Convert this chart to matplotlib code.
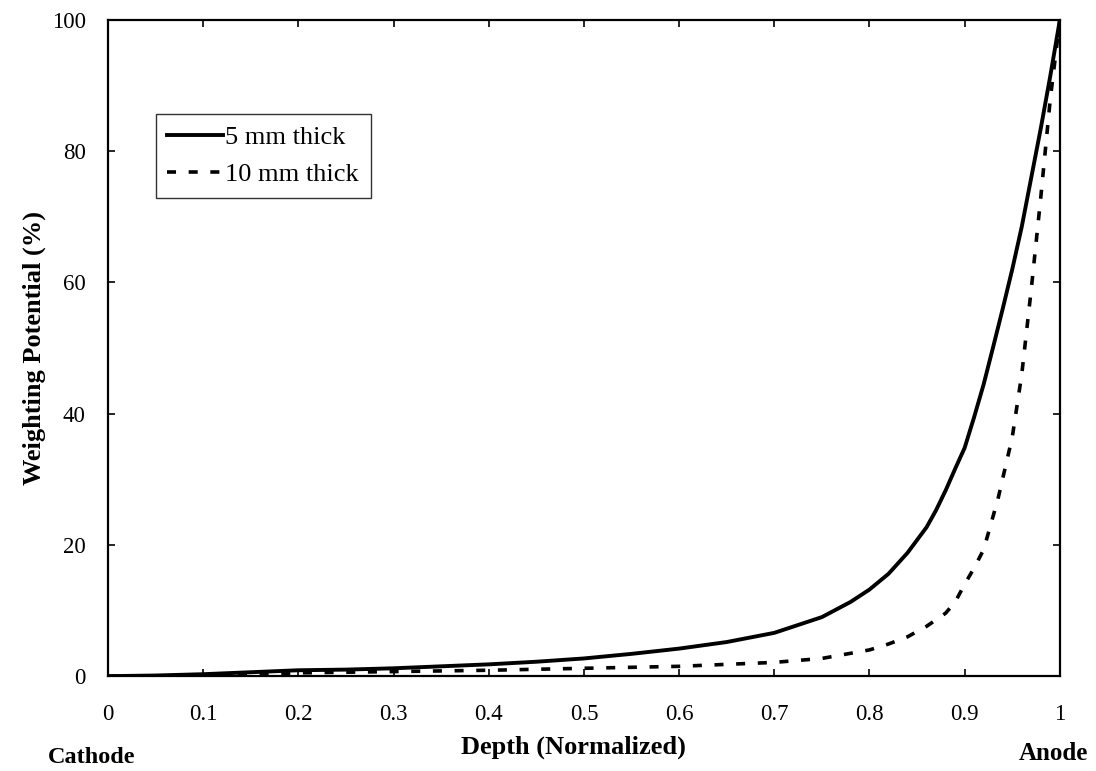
import matplotlib
matplotlib.use("Agg")
import matplotlib.pyplot as plt
import numpy as np

# depth (normalized) and weighting potential (%)
depth_5mm = [0, 0.05, 0.1, 0.15, 0.2, 0.25, 0.3, 0.35, 0.4, 0.45, 0.5, 0.55,
             0.6, 0.65, 0.7, 0.75, 0.78, 0.8, 0.82, 0.84, 0.86, 0.87, 0.88,
             0.89, 0.9, 0.91, 0.92, 0.93, 0.94, 0.95, 0.96, 0.97, 0.98, 0.99,
             1.0]
wp_5mm = [0, 0.1, 0.3, 0.6, 0.9, 1.0, 1.2, 1.5, 1.8, 2.2, 2.7, 3.4,
          4.2, 5.2, 6.6, 9.0, 11.3, 13.2, 15.6, 18.8, 22.7, 25.3, 28.3,
          31.6, 34.8, 39.5, 44.5, 50.2, 56, 62, 68.5, 76, 83.5, 91.5,
          100]

depth_10mm = [0, 0.05, 0.1, 0.15, 0.2, 0.3, 0.4, 0.5, 0.6, 0.65, 0.7, 0.75,
              0.8, 0.82, 0.84, 0.86, 0.88, 0.89, 0.9, 0.91, 0.92, 0.935,
              0.95, 0.96, 0.97, 0.98, 0.99, 1.0]
wp_10mm = [0, 0, 0.1, 0.3, 0.5, 0.7, 0.9, 1.2, 1.5, 1.8, 2.1, 2.7,
           4.0, 4.9, 6.0, 7.6, 9.6, 11.3, 14.0, 16.5, 19.3, 27, 36.4,
           46, 59, 73, 88, 100]

x_ticks = np.round(np.arange(0, 1.01, 0.1), 1)
x_labels = ["0", "0.1", "0.2", "0.3", "0.4", "0.5", "0.6", "0.7", "0.8", "0.9", "1"]
y_ticks = [0, 20, 40, 60, 80, 100]

plt.rcParams["font.family"] = ["Liberation Serif", "DejaVu Serif"]

fig = plt.figure(figsize=(10.96, 7.71), dpi=100)
ax = fig.add_axes([0.0985, 0.123, 0.8685, 0.851])

ax.plot(depth_5mm, wp_5mm, color="black", lw=2.8, label="5 mm thick")
ax.plot(depth_10mm, wp_10mm, color="black", lw=2.6, dashes=(2.5, 3.5),
        label="10 mm thick")

ax.set_xlim(0, 1)
ax.set_ylim(0, 100)
ax.set_xticks(x_ticks)
ax.set_xticklabels(x_labels)
ax.set_yticks(y_ticks)
ax.tick_params(direction="in", length=5, width=1.2, top=True, right=True,
               labelsize=16.5)
ax.tick_params(axis="x", pad=20)
ax.tick_params(axis="y", pad=16)
for s in ax.spines.values():
    s.set_linewidth(1.6)

ax.set_ylabel("Weighting Potential (%)", fontsize=19, fontweight="bold",
              labelpad=4)
fig.text(0.523, 0.031, "Depth (Normalized)", fontsize=19, fontweight="bold",
         ha="center", va="center")
fig.text(0.084, 0.018, "Cathode", fontsize=17.5, fontweight="bold",
         ha="center", va="center")
fig.text(0.961, 0.023, "Anode", fontsize=18, fontweight="bold",
         ha="center", va="center")

leg = ax.legend(loc="upper left", bbox_to_anchor=(0.05, 0.857), fontsize=19,
                frameon=True, fancybox=False, handlelength=2.1,
                handletextpad=0.1, borderpad=0.45, labelspacing=0.5,
                borderaxespad=0)
leg.get_frame().set_edgecolor("black")
leg.get_frame().set_linewidth(1.0)

fig.savefig("out.png", dpi=100)
